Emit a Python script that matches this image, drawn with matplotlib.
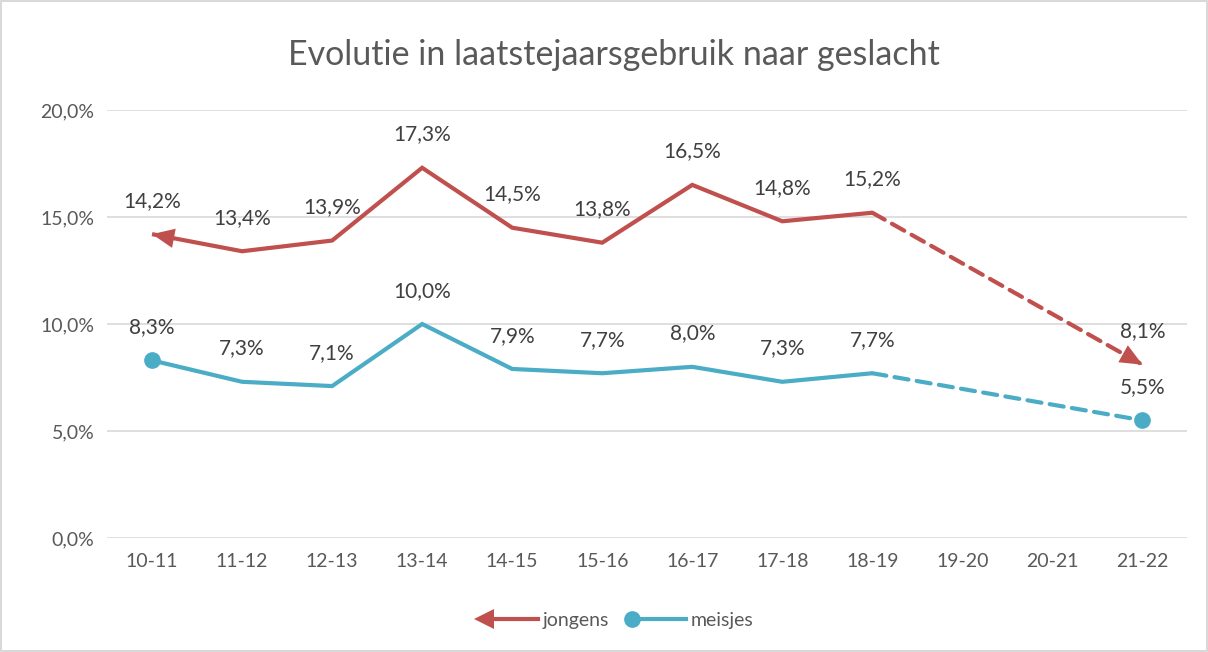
import matplotlib.pyplot as plt
from matplotlib.legend_handler import HandlerLine2D
from matplotlib.lines import Line2D
import numpy as np

# Données
jaren = ['10-11', '11-12', '12-13', '13-14', '14-15', '15-16', '16-17',
         '17-18', '18-19', '19-20', '20-21', '21-22']
jongens = [14.2, 13.4, 13.9, 17.3, 14.5, 13.8, 16.5, 14.8, 15.2, np.nan, np.nan, 8.1]
meisjes = [8.3, 7.3, 7.1, 10.0, 7.9, 7.7, 8.0, 7.3, 7.7, np.nan, np.nan, 5.5]
yticks = [0, 5, 10, 15, 20]

rood = '#C0504D'
blauw = '#4BACC6'
grijs = '#595959'

plt.rcParams['font.family'] = ['Lato', 'DejaVu Sans']

fig = plt.figure(figsize=(12.08, 6.52), dpi=100)
fig.patch.set_edgecolor('#D9D9D9')
fig.patch.set_linewidth(1.5)
ax = fig.add_axes([0.0886, 0.1748, 0.8944, 0.6565])

x = np.arange(len(jaren))


def teken(waarden, kleur):
    w = np.array(waarden)
    ok = ~np.isnan(w)
    xs, ys = x[ok], w[ok]
    # vaste lijn tot 18-19, daarna gestippeld
    ax.plot(xs[:-1], ys[:-1], color=kleur, lw=3, solid_capstyle='butt',
            solid_joinstyle='miter', zorder=3)
    ax.plot(xs[-2:], ys[-2:], color=kleur, lw=3, dashes=(3.4, 2.0),
            dash_capstyle='round', zorder=3)
    for xi, yi in zip(xs, ys):
        ax.annotate(f'{yi:.1f}%'.replace('.', ','), (xi, yi), xytext=(0, 24),
                    textcoords='offset points', ha='center', va='center',
                    fontsize=15, color='#404040')
    return xs, ys


xs, ys = teken(jongens, rood)
pijl = dict(arrowstyle='-|>,head_length=0.8,head_width=0.35', color=rood,
            lw=0, mutation_scale=20, shrinkA=0, shrinkB=0)
for a, b in [(0, 1), (-1, -2)]:
    t = 0.15
    start = (xs[a] + t * (xs[b] - xs[a]), ys[a] + t * (ys[b] - ys[a]))
    ax.annotate('', xy=(xs[a], ys[a]), xytext=start, arrowprops=pijl, zorder=4)

xs2, ys2 = teken(meisjes, blauw)
ax.plot(xs2[[0, -1]], ys2[[0, -1]], 'o', color=blauw, ms=11, zorder=4)

ax.set_xlim(-0.5, len(jaren) - 0.5)
ax.set_ylim(0, 20)
ax.set_xticks(x)
ax.set_xticklabels(jaren)
ax.set_yticks(yticks)
ax.set_yticklabels([f'{v:.1f}%'.replace('.', ',') for v in yticks])
ax.tick_params(length=0, labelsize=14, labelcolor=grijs, pad=11)
ax.tick_params(axis='y', pad=9)
ax.grid(axis='y', color='#D9D9D9', lw=1.2)
ax.set_axisbelow(True)
for s in ax.spines.values():
    s.set_visible(False)

fig.suptitle('Evolutie in laatstejaarsgebruik naar geslacht', fontsize=24.5,
             color=grijs, x=0.508, y=0.94)


class LinksMarker(HandlerLine2D):
    def create_artists(self, *args, **kwargs):
        lijnen = super().create_artists(*args, **kwargs)
        for l in lijnen:
            l.set_markevery([0])
        return lijnen


h1 = Line2D([], [], color=rood, lw=3, marker='<', ms=14, mew=0)
h2 = Line2D([], [], color=blauw, lw=3, marker='o', ms=11)
fig.legend([h1, h2], ['jongens', 'meisjes'], loc='center', ncol=2,
           bbox_to_anchor=(0.512, 0.048), frameon=False, fontsize=14,
           labelcolor=grijs, handlelength=2.8, handletextpad=0.2,
           columnspacing=1.2, handler_map={Line2D: LinksMarker(numpoints=1)})

fig.savefig('out.png', dpi=100)
